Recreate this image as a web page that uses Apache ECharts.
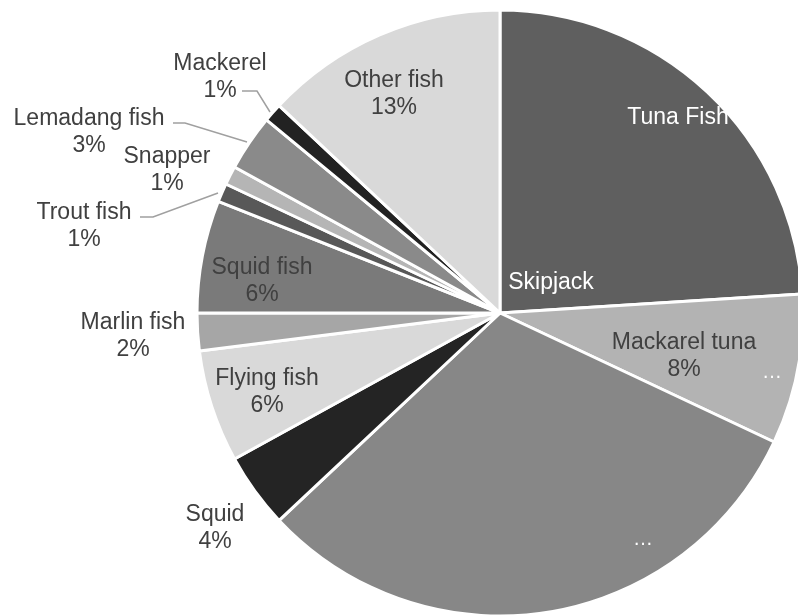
<!DOCTYPE html>
<html>
<head>
<meta charset="utf-8">
<script src="https://cdn.jsdelivr.net/npm/echarts@6/dist/echarts.min.js"></script>
<style>html,body{margin:0;padding:0;background:#fff;}#c{width:798px;height:615px;}</style>
</head>
<body>
<div id="c"></div>
<script>
var categories = ['Tuna Fish','Mackarel tuna','Skipjack','Squid','Flying fish','Marlin fish','Squid fish','Trout fish','Snapper','Lemadang fish','Mackerel','Other fish'];
var values = [24, 8, 31, 4, 6, 2, 6, 1, 1, 3, 1, 13];
var colors = ['#5f5f5f','#b3b3b3','#878787','#242424','#d9d9d9','#a6a6a6','#7a7a7a','#585858','#b5b5b5','#8a8a8a','#222222','#d9d9d9'];
// label texts shown per slice (Tuna Fish / Skipjack percentages are truncated in the original)
var showPct = [false, true, false, true, true, true, true, true, true, true, true, true];
var labelColor = ['#ffffff','#404040','#ffffff','#404040','#404040','#404040','#404040','#404040','#404040','#404040','#404040','#404040'];
// label positions (center) in pixels
var labelPos = [[678,118],[684,356],[551,283],[215,528],[267,392],[133,336],[262,281],[84,226],[167,170],[89,132],[220,77],[394,94]];
var leaderLines = {
  7: [[140,217],[153,217],[218,193]],
  9: [[173,123],[185,123],[247,142]],
  10: [[242,91],[257,91],[270,112]]
};

var data = categories.map(function(n, i){
  return {
    name: n,
    value: values[i],
    itemStyle: { color: colors[i] },
    label: { color: labelColor[i] },
    labelLine: { show: leaderLines[i] !== undefined }
  };
});

var chart = echarts.init(document.getElementById('c'), null, {renderer:'canvas'});
chart.setOption({
  animation: false,
  backgroundColor: '#ffffff',
  series: [{
    type: 'pie',
    center: [500, 313],
    radius: 303,
    startAngle: 90,
    clockwise: true,
    avoidLabelOverlap: false,
    data: data,
    itemStyle: { borderColor: '#ffffff', borderWidth: 3 },
    label: {
      show: true,
      position: 'outside',
      fontFamily: '"Liberation Sans", Arial, sans-serif',
      fontSize: 23,
      lineHeight: 27,
      align: 'center',
      formatter: function(p){
        return showPct[p.dataIndex] ? p.name + '\n' + p.value + '%' : p.name;
      }
    },
    labelLine: { lineStyle: { color: '#a0a0a0', width: 1.5 } },
    labelLayout: function(p){
      var i = p.dataIndex;
      var o = { x: labelPos[i][0], y: labelPos[i][1], align: 'center', verticalAlign: 'middle' };
      if (leaderLines[i]) o.labelLinePoints = leaderLines[i];
      return o;
    }
  }],
  graphic: [
    { type: 'text', z: 100, x: 772, y: 372, style: { text: '…', fill: '#ffffff', font: '20px "Liberation Sans", Arial', align: 'center', verticalAlign: 'middle' } },
    { type: 'text', z: 100, x: 643, y: 539, style: { text: '…', fill: '#ffffff', font: '20px "Liberation Sans", Arial', align: 'center', verticalAlign: 'middle' } }
  ]
});
</script>
</body>
</html>
